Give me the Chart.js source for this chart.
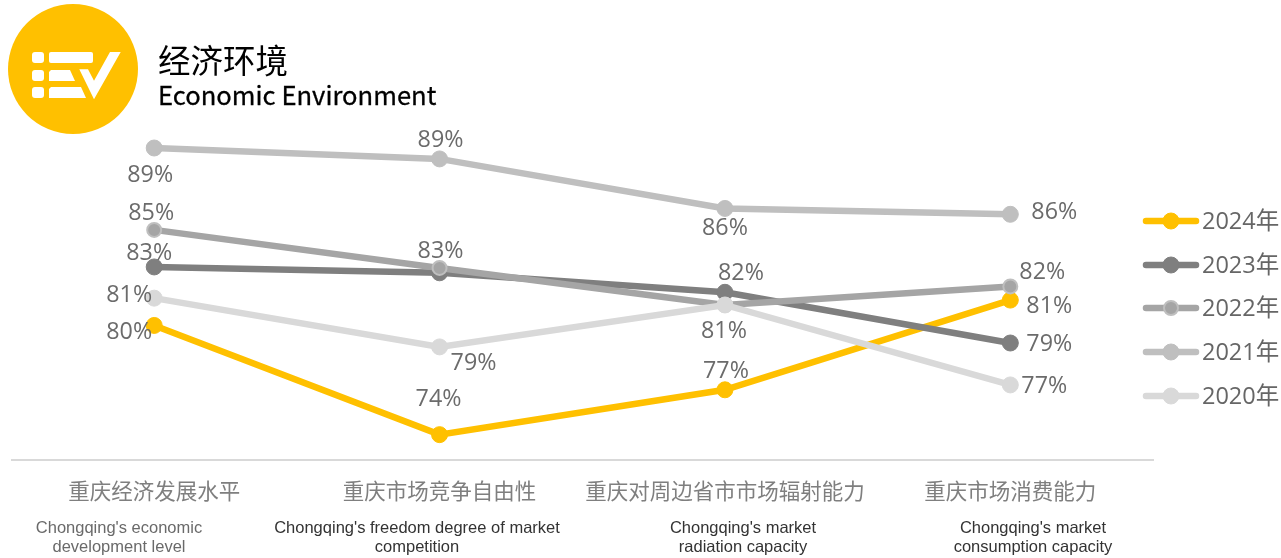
<!DOCTYPE html>
<html>
<head>
<meta charset="utf-8">
<title>经济环境</title>
<script src="https://cdn.jsdelivr.net/npm/chart.js@4"></script>
<style>
  html, body { margin: 0; padding: 0; background: #fff; }
  #wrap { position: relative; width: 1281px; height: 558px; overflow: hidden; }
  #logo { position: absolute; left: 0; top: 0; }
  .head { position: absolute; left: 158px; color: #000; white-space: nowrap; font-family: "Noto Sans CJK SC", "Noto Sans", sans-serif; }
  #titleCn { top: 35px; font-size: 32.5px; line-height: 48px; }
  #titleEn { top: 75px; font-size: 25.6px; line-height: 38px; -webkit-text-stroke: 0.3px #000; }
  canvas { position: absolute; left: 0; top: 0; }
</style>
</head>
<body>
<div id="wrap">
  <canvas id="chart" width="1281" height="558"></canvas>
  <svg id="logo" width="140" height="140">
    <circle cx="73" cy="69" r="65" fill="#FFC000"/>
    <g fill="#fff">
      <rect x="32" y="52" width="12" height="11" rx="3"/>
      <rect x="32" y="70" width="12" height="11" rx="3"/>
      <rect x="32" y="87" width="12" height="11" rx="3"/>
      <rect x="49" y="52" width="44" height="11" rx="2"/>
      <polygon points="49,72 49,81 75,81 70,70 51,70"/>
      <polygon points="49,89 49,98 86,98 81,87 51,87"/>
      <polygon points="79.3,69.3 88,69.3 94,80.7 110,52 120.7,52 94,99.3"/>
    </g>
  </svg>
  <div class="head" id="titleCn">经济环境</div>
  <div class="head" id="titleEn">Economic Environment</div>
</div>
<script>
const categories = ["重庆经济发展水平", "重庆市场竞争自由性", "重庆对周边省市市场辐射能力", "重庆市场消费能力"];
const categoriesEn = [
  ["Chongqing's economic", "development level"],
  ["Chongqing's freedom degree of market", "competition"],
  ["Chongqing's market", "radiation capacity"],
  ["Chongqing's market", "consumption capacity"]
];

const values2024 = [80.3, 74.7, 77.0, 81.6];
const values2023 = [83.3, 83.0, 82.0, 79.4];
const values2022 = [85.2, 83.25, 81.35, 82.3];
const values2021 = [89.4, 88.84, 86.3, 86.0];
const values2020 = [81.7, 79.2, 81.35, 77.25];

const labels2024 = ["80%", "74%", "77%", "81%"];
const labels2023 = ["83%", null, "82%", "79%"];
const labels2022 = ["85%", "83%", "81%", "82%"];
const labels2021 = ["89%", "89%", "86%", "86%"];
const labels2020 = ["81%", "79%", null, "77%"];

// where each value label sits relative to its point
const offsets2024 = [[-25, 7], [-1, -35], [1, -18], [39, 6]];
const offsets2023 = [[-5, -14], [0, 0], [16, -19], [39, 1]];
const offsets2022 = [[-3, -17], [1, -17], [-1, 26], [32, -14]];
const offsets2021 = [[-4, 27], [1, -19], [0, 20], [44, -2]];
const offsets2020 = [[-25, -3], [34, 16], [0, 0], [34, 1]];

const enCenters = [119, 417, 743, 1033];
const enColors = ["#6a6a6a", "#333333", "#333333", "#333333"];
const legendRows = [221, 265, 308, 352, 396];

const seriesNames = ["2024年", "2023年", "2022年", "2021年", "2020年"];
const seriesValues = [values2024, values2023, values2022, values2021, values2020];
const seriesLabels = [labels2024, labels2023, labels2022, labels2021, labels2020];
const seriesOffsets = [offsets2024, offsets2023, offsets2022, offsets2021, offsets2020];
const seriesColors = ["#FFC000", "#7F7F7F", "#A5A5A5", "#BFBFBF", "#D9D9D9"];

const cjk = '"Noto Sans CJK SC", "Noto Sans", sans-serif';
const numFont = '"Open Sans", "Noto Sans CJK SC", sans-serif';

const extras = {
  id: "extras",
  afterDatasetsDraw(chart) {
    const ctx = chart.ctx;
    ctx.save();
    ctx.textBaseline = "middle";

    // value labels
    ctx.font = "23.3px " + numFont;
    ctx.fillStyle = "#6b6b6b";
    ctx.textAlign = "center";
    chart.data.datasets.forEach((ds, i) => {
      const pts = chart.getDatasetMeta(i).data;
      seriesLabels[i].forEach((txt, j) => {
        if (!txt) return;
        ctx.fillText(txt, pts[j].x + seriesOffsets[i][j][0], pts[j].y + seriesOffsets[i][j][1]);
      });
    });

    // english lines under the axis
    ctx.font = '16.5px "Liberation Sans", sans-serif';
    categoriesEn.forEach((lines, j) => {
      ctx.fillStyle = enColors[j];
      ctx.fillText(lines[0], enCenters[j], 528);
      ctx.fillText(lines[1], enCenters[j], 547);
    });

    // legend
    ctx.textAlign = "left";
    chart.data.datasets.forEach((ds, i) => {
      const y = legendRows[i];
      ctx.strokeStyle = ds.borderColor;
      ctx.lineWidth = 6.5;
      ctx.lineCap = "round";
      ctx.beginPath();
      ctx.moveTo(1146, y);
      ctx.lineTo(1196, y);
      ctx.stroke();
      ctx.beginPath();
      ctx.arc(1171, y, ds.pointRadius, 0, Math.PI * 2);
      ctx.fillStyle = ds.pointBackgroundColor;
      ctx.fill();
      ctx.lineWidth = ds.pointBorderWidth;
      ctx.strokeStyle = ds.pointBorderColor;
      ctx.stroke();
      ctx.fillStyle = "#666666";
      ctx.font = "23.5px " + numFont;
      ctx.fillText(ds.label, 1202, y + 1);
    });
    ctx.restore();
  }
};

new Chart(document.getElementById("chart").getContext("2d"), {
  type: "line",
  data: {
    labels: categories,
    datasets: seriesNames.map((name, i) => ({
      label: name,
      data: seriesValues[i],
      borderColor: seriesColors[i],
      borderWidth: 6.5,
      pointRadius: i === 2 ? 7 : 8,
      pointBackgroundColor: seriesColors[i],
      pointBorderColor: i === 2 ? "#BFBFBF" : seriesColors[i],
      pointBorderWidth: i === 2 ? 2 : 1,
      tension: 0,
      order: seriesNames.length - i
    }))
  },
  options: {
    responsive: false,
    animation: false,
    layout: { padding: { left: 11.5, right: 128, top: 19.3, bottom: 0 } },
    plugins: { legend: { display: false }, tooltip: { enabled: false }, title: { display: false } },
    scales: {
      x: {
        offset: true,
        afterFit: (scale) => { scale.height = 98; },
        grid: { display: false, drawTicks: false },
        border: { color: "#D9D9D9", width: 2 },
        ticks: { padding: 18, maxRotation: 0, autoSkip: false, color: "#7f7f7f", font: { family: cjk, size: 21.5 } }
      },
      y: { display: false, min: 73.4, max: 96 }
    }
  },
  plugins: [extras]
});
</script>
</body>
</html>
